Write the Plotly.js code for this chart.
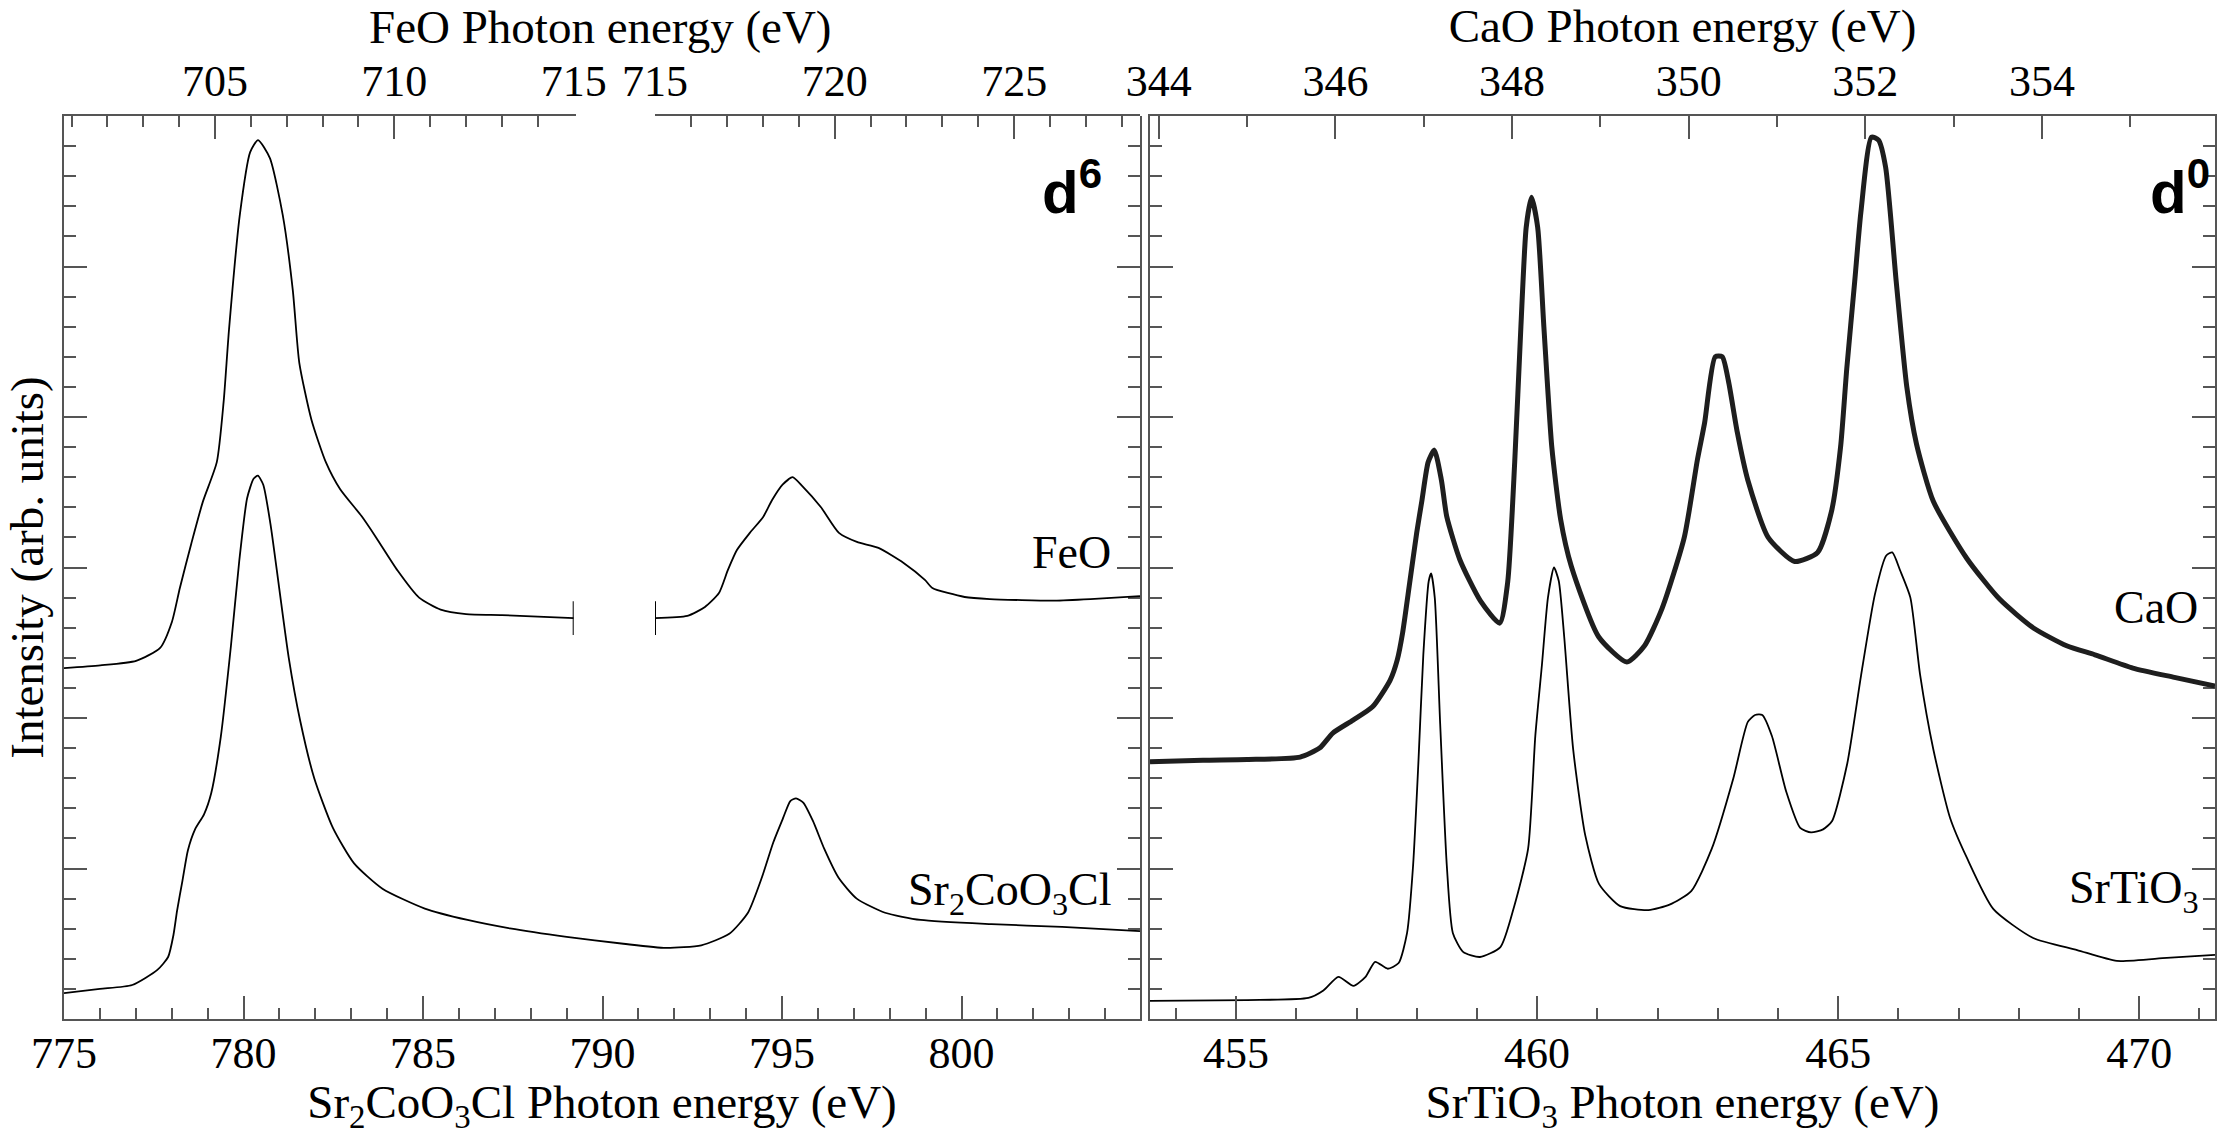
<!DOCTYPE html>
<html><head><meta charset="utf-8">
<script src="https://cdn.plot.ly/plotly-3.0.1.min.js"></script>
<style>html,body{margin:0;padding:0;background:#fff;} #chart{width:2219px;height:1135px;}</style>
</head><body><div id="chart"></div>
<script>
// ---------- Left panel: Sr2CoO3Cl (bottom axis) ----------
const coE = [775.0,776.0,776.9,777.6,777.9,778.05,778.15,778.3,778.45,778.65,778.9,779.1,779.37,779.65,779.88,780.1,780.28,780.4,780.55,780.75,780.99,781.26,781.58,781.97,782.49,783.08,783.87,785.05,786.24,787.42,789.0,790.58,791.76,792.75,793.53,794.05,794.44,794.76,795.03,795.23,795.39,795.59,795.86,796.18,796.57,797.08,797.87,798.86,800.83,802.8,804.97];
const coI = [0.86,1.0,1.13,1.63,2.06,2.8,3.6,4.6,5.6,6.3,6.8,7.5,9.4,12.4,15.2,17.3,17.95,18.05,17.75,16.45,14.35,12.0,9.9,8.0,6.35,5.17,4.33,3.67,3.29,3.01,2.73,2.5,2.36,2.45,2.83,3.53,4.71,5.88,6.68,7.24,7.33,7.19,6.58,5.64,4.70,4.00,3.53,3.29,3.15,3.06,2.92];

// ---------- Left panel: FeO (top axis, broken at 715 eV) ----------
const feoE1 = [700.79,701.8,702.8,703.47,703.8,704.02,704.34,704.66,705.05,705.24,705.39,705.69,705.98,706.2,706.53,706.89,707.17,707.35,707.69,708.09,708.49,709.09,709.49,710.09,710.69,711.29,712.0,713.0,714.0,715.0];
const feoI1 = [11.66,11.75,11.9,12.33,13.2,14.32,15.8,17.18,18.5,20.5,22.9,26.7,28.8,29.2,28.6,26.7,24.2,21.8,19.9,18.5,17.6,16.7,16.0,14.9,14.0,13.6,13.45,13.42,13.37,13.32];
const feoE2 = [715.0,715.9,716.39,716.78,717.03,717.28,717.64,718.01,718.26,718.55,718.83,719.1,719.62,720.12,720.62,721.22,721.92,722.52,722.72,723.62,724.32,726.12,727.12,728.5];
const feoI2 = [13.32,13.39,13.69,14.15,14.92,15.58,16.15,16.68,17.24,17.75,18.0,17.7,17.0,16.15,15.85,15.65,15.15,14.58,14.32,14.02,13.95,13.9,13.95,14.05];
const feoBreakCap = 0.56;

// ---------- Right panel: SrTiO3 (bottom axis) ----------
const stoE = [453.57,455.18,456.2,456.45,456.7,456.95,457.15,457.31,457.52,457.7,457.84,457.94,458.03,458.11,458.2,458.24,458.3,458.39,458.5,458.6,458.77,459.05,459.39,459.62,459.85,459.97,460.08,460.18,460.28,460.36,460.45,460.6,460.8,461.03,461.38,461.85,462.2,462.56,462.9,463.26,463.5,463.62,463.74,463.9,464.14,464.37,464.55,464.75,464.9,465.15,465.38,465.61,465.8,465.9,466.03,466.2,466.36,466.58,466.86,467.14,467.58,468.24,468.97,469.63,470.46,471.26];
const stoI = [0.6,0.63,0.7,0.95,1.4,1.1,1.4,1.9,1.67,1.86,2.86,5.1,8.6,12.1,14.55,14.8,14.0,9.8,5.1,2.86,2.23,2.06,2.39,3.75,5.65,9.4,11.76,14.0,15.0,14.55,12.7,8.94,6.1,4.48,3.75,3.62,3.8,4.25,5.65,8.0,9.87,10.1,10.1,9.4,7.54,6.35,6.2,6.3,6.58,8.47,11.4,14.1,15.4,15.5,14.9,14.0,11.46,8.97,6.68,5.35,3.65,2.69,2.29,1.93,2.03,2.13];

// ---------- Right panel: CaO (top axis) ----------
const caoE = [343.9,344.5,345.0,345.6,345.82,345.97,346.2,346.42,346.62,346.7,346.76,346.84,346.92,346.98,347.05,347.12,347.2,347.26,347.41,347.64,347.86,347.95,348.03,348.1,348.16,348.22,348.29,348.36,348.45,348.55,348.67,348.98,349.3,349.5,349.7,349.95,350.1,350.18,350.3,350.38,350.45,350.55,350.67,350.9,351.2,351.46,351.62,351.72,351.79,351.88,351.95,352.07,352.15,352.23,352.35,352.47,352.58,352.77,353.15,353.52,353.9,354.28,354.6,355.03,355.5,355.96];
const caoI = [8.55,8.6,8.62,8.7,9.0,9.5,9.93,10.37,11.26,11.93,12.82,14.48,16.15,17.24,18.5,18.9,17.9,16.7,15.25,13.9,13.15,14.5,18.5,23.0,26.3,27.3,26.3,23.0,19.0,16.6,15.05,12.7,11.86,12.4,13.65,16.0,18.6,19.8,22.0,22.0,21.2,19.5,17.9,16.0,15.2,15.5,16.9,19.0,21.6,24.5,26.8,29.3,29.2,28.3,24.5,21.0,19.1,17.2,15.3,13.95,13.0,12.4,12.1,11.66,11.35,11.06];

// ---------- Text ----------
const titleFeO = 'FeO Photon energy (eV)';
const titleCaO = 'CaO Photon energy (eV)';
const titleCo  = 'Sr<sub>2</sub>CoO<sub>3</sub>Cl Photon energy (eV)';
const titleSTO = 'SrTiO<sub>3</sub> Photon energy (eV)';
const titleY   = 'Intensity (arb. units)';
const curveLabels = ['FeO','Sr<sub>2</sub>CoO<sub>3</sub>Cl','CaO','SrTiO<sub>3</sub>'];
const configLabels = ['d<sup>6</sup>','d<sup>0</sup>'];

// ---------- Layout geometry ----------
const W = 2219, H = 1135;
const serif = '"Liberation Serif","Times New Roman",serif';
const sans = '"Liberation Sans",Arial,sans-serif';
const AX = '#555';
const leftDom = [64/W, 1140/W];
const rightDom = [1150/W, 2215/W];
const feoDom1 = [64/W, 573.7/W];
const feoDom2 = [655/W, 1140/W];

function xAx(o){
  return Object.assign({
    showgrid:false, zeroline:false, showline:true, linecolor:AX, linewidth:2,
    ticks:'inside', ticklen:23, tickwidth:2, tickcolor:AX,
    minor:{dtick:1, ticks:'inside', ticklen:11, tickwidth:2, tickcolor:AX, showgrid:false},
    tickfont:{family:serif, size:44, color:'#000'}, fixedrange:true
  }, o);
}
function yAx(o){
  return Object.assign({
    range:[0,30], dtick:5, tick0:0, showgrid:false, zeroline:false, showline:true,
    linecolor:AX, linewidth:2, mirror:'ticks',
    ticks:'inside', ticklen:23, tickwidth:2, tickcolor:AX,
    minor:{dtick:1, ticks:'inside', ticklen:12, tickwidth:2, tickcolor:AX, showgrid:false},
    showticklabels:false, domain:[0,1], fixedrange:true
  }, o);
}

const thin = {color:'#000', width:1.8, shape:'spline', smoothing:0.6};
const traces = [
  {x:coE, y:coI, xaxis:'x', yaxis:'y', mode:'lines', line:thin, hoverinfo:'skip'},
  {x:feoE1, y:feoI1, xaxis:'x3', yaxis:'y', mode:'lines', line:thin, hoverinfo:'skip',
   error_y:{type:'data', array:feoI1.map((v,i)=> i===feoI1.length-1 ? feoBreakCap : 0), width:0, thickness:2, color:'#000'}},
  {x:feoE2, y:feoI2, xaxis:'x4', yaxis:'y', mode:'lines', line:thin, hoverinfo:'skip',
   error_y:{type:'data', array:feoI2.map((v,i)=> i===0 ? feoBreakCap : 0), width:0, thickness:2, color:'#000'}},
  {x:stoE, y:stoI, xaxis:'x2', yaxis:'y2', mode:'lines', line:thin, hoverinfo:'skip'},
  {x:caoE, y:caoI, xaxis:'x5', yaxis:'y2', mode:'lines', line:{color:'#1e1e1e', width:5, shape:'spline', smoothing:0.6}, hoverinfo:'skip'}
];

const layout = {
  width:W, height:H, margin:{l:0, r:0, t:116, b:116},
  paper_bgcolor:'#fff', plot_bgcolor:'rgba(0,0,0,0)', showlegend:false,
  font:{family:serif, color:'#000'},
  xaxis: xAx({domain:leftDom, anchor:'y', side:'bottom', range:[775,804.97], dtick:5, tick0:775, ticklabelstandoff:-6,
    title:{text:titleCo, font:{family:serif, size:47, color:'#000'}, standoff:24}}),
  xaxis3: xAx({domain:feoDom1, anchor:'y', side:'top', range:[700.79,715.0], dtick:5, tick0:0}),
  xaxis4: xAx({domain:feoDom2, anchor:'y', side:'top', range:[715.0,728.5], dtick:5, tick0:0}),
  xaxis2: xAx({domain:rightDom, anchor:'y2', side:'bottom', range:[453.57,471.26], dtick:5, tick0:0, ticklabelstandoff:-6,
    title:{text:titleSTO, font:{family:serif, size:47, color:'#000'}, standoff:24}}),
  xaxis5: xAx({domain:rightDom, anchor:'y2', side:'top', range:[343.9,355.96], dtick:2, tick0:0,
    title:{text:titleCaO, font:{family:serif, size:47, color:'#000'}, standoff:10}}),
  yaxis: yAx({anchor:'x', title:{text:titleY, font:{family:serif, size:47, color:'#000'}, standoff:4}}),
  yaxis2: yAx({anchor:'x2'}),
  annotations:[
    {text:titleFeO, xref:'paper', yref:'paper', x:600/W, y:(1019-27)/903, xanchor:'center', yanchor:'middle', showarrow:false, font:{family:serif, size:47, color:'#000'}},
    {text:curveLabels[0], xref:'paper', yref:'paper', x:1113/W, y:(1019-552)/903, xanchor:'right', yanchor:'middle', showarrow:false, font:{family:serif, size:46, color:'#000'}},
    {text:curveLabels[1], xref:'paper', yref:'paper', x:1113/W, y:(1019-893)/903, xanchor:'right', yanchor:'middle', showarrow:false, font:{family:serif, size:46, color:'#000'}},
    {text:curveLabels[2], xref:'paper', yref:'paper', x:2200/W, y:(1019-607)/903, xanchor:'right', yanchor:'middle', showarrow:false, font:{family:serif, size:46, color:'#000'}},
    {text:curveLabels[3], xref:'paper', yref:'paper', x:2200/W, y:(1019-891)/903, xanchor:'right', yanchor:'middle', showarrow:false, font:{family:serif, size:46, color:'#000'}},
    {text:configLabels[0], xref:'paper', yref:'paper', x:1040/W, y:(1019-188)/903, xanchor:'left', yanchor:'middle', showarrow:false, font:{family:sans, size:60, color:'#000', weight:'bold'}},
    {text:configLabels[1], xref:'paper', yref:'paper', x:2148/W, y:(1019-188)/903, xanchor:'left', yanchor:'middle', showarrow:false, font:{family:sans, size:60, color:'#000', weight:'bold'}}
  ]
};

Plotly.newPlot('chart', traces, layout, {staticPlot:true, displayModeBar:false});
</script></body></html>
